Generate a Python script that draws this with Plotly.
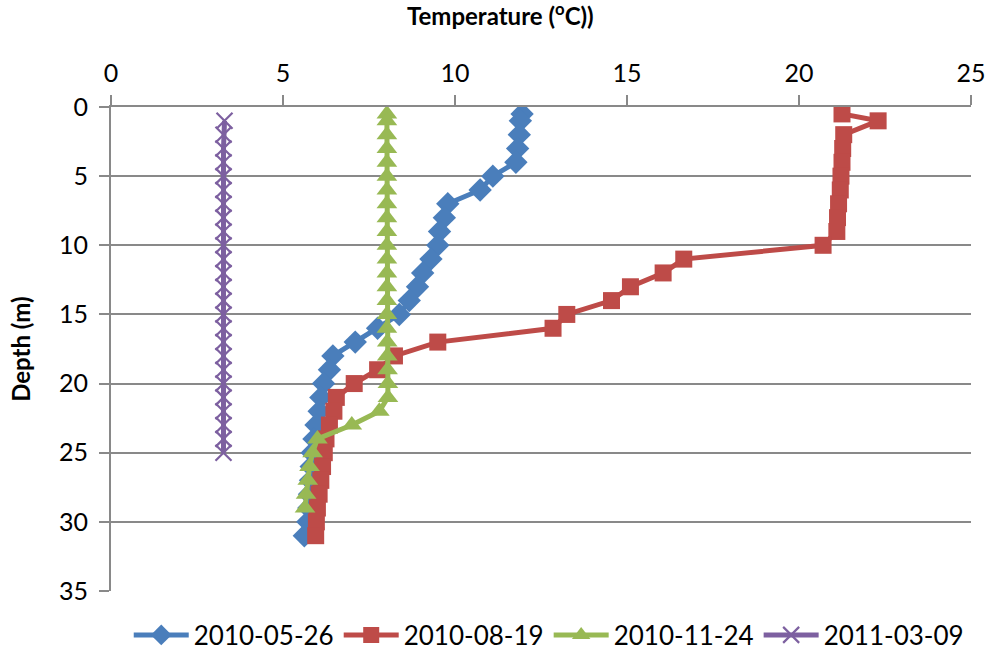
import plotly.graph_objects as go

# ---- data ----
blue_depth = [0.5, 1, 2, 3, 4, 5, 6, 7, 8, 9, 10, 11, 12, 13, 14, 15, 16, 17, 18, 19, 20,
              21, 22, 23, 24, 25, 26, 27, 28, 29, 30, 31]
blue_temp = [11.95, 11.9, 11.87, 11.82, 11.77, 11.1, 10.73, 9.79, 9.69, 9.55, 9.5, 9.3, 9.06,
             8.91, 8.67, 8.38, 7.75, 7.1, 6.45, 6.35, 6.18, 6.1, 6.05, 5.96, 5.9, 5.85, 5.82,
             5.8, 5.77, 5.75, 5.72, 5.62]

red_depth = [0.5, 1, 2, 3, 4, 5, 6, 7, 8, 9, 10, 11, 12, 13, 14, 15, 16, 17, 18, 19, 20,
             21, 22, 23, 24, 25, 26, 27, 28, 29, 30, 31]
red_temp = [21.25, 22.3, 21.3, 21.27, 21.25, 21.22, 21.2, 21.15, 21.12, 21.1, 20.7, 16.65,
            16.05, 15.1, 14.55, 13.25, 12.85, 9.5, 8.24, 7.75, 7.07, 6.55, 6.48, 6.35, 6.25,
            6.2, 6.15, 6.1, 6.05, 6.0, 5.97, 5.95]

green_depth = [0.5, 1, 2, 3, 4, 5, 6, 7, 8, 9, 10, 11, 12, 13, 14, 15, 16, 17, 18, 19, 20,
               21, 22, 23, 24, 25, 26, 27, 28, 29]
green_temp = [8.02, 8.02, 8.02, 8.02, 8.02, 8.02, 8.02, 8.02, 8.02, 8.02, 8.02, 8.02, 8.02,
              8.02, 8.02, 8.02, 8.02, 8.03, 8.03, 8.04, 8.05, 8.05, 7.8, 7.0, 6.0, 5.86, 5.77,
              5.72, 5.67, 5.64]

purple_depth = [1, 2, 3, 4, 5, 6, 7, 8, 9, 10, 11, 12, 13, 14, 15, 16, 17, 18, 19, 20, 21,
                22, 23, 24, 25]
purple_temp = [3.3, 3.27, 3.27, 3.27, 3.27, 3.27, 3.27, 3.27, 3.27, 3.27, 3.27, 3.27, 3.27,
               3.27, 3.27, 3.27, 3.27, 3.27, 3.27, 3.27, 3.27, 3.27, 3.27, 3.27, 3.27]

series_names = ["2010-05-26", "2010-08-19", "2010-11-24", "2011-03-09"]
x_ticks = [0, 5, 10, 15, 20, 25]
y_ticks = [0, 5, 10, 15, 20, 25, 30, 35]

FONT = "Lato, Liberation Sans, sans-serif"
GRID = "#898989"
FS = 25
PLOT_H = 484  # plot-area height in px
LW = 5

fig = go.Figure()
fig.add_trace(go.Scatter(x=blue_temp, y=blue_depth, name=series_names[0], mode="lines+markers",
                         line=dict(color="#4A7EBB", width=LW),
                         marker=dict(symbol="diamond", size=18, color="#4A7EBB")))
fig.add_trace(go.Scatter(x=red_temp, y=red_depth, name=series_names[1], mode="lines+markers",
                         line=dict(color="#BE4B48", width=LW),
                         marker=dict(symbol="square", size=17, color="#BE4B48")))
fig.add_trace(go.Scatter(x=green_temp, y=green_depth, name=series_names[2], mode="lines+markers",
                         line=dict(color="#98B954", width=LW),
                         marker=dict(symbol="triangle-up", size=18, color="#98B954")))
fig.add_trace(go.Scatter(x=purple_temp, y=purple_depth, name=series_names[3], mode="lines+markers",
                         line=dict(color="#7D60A0", width=LW),
                         marker=dict(symbol="x-thin", size=16, color="#7D60A0",
                                     line=dict(color="#7D60A0", width=2.2))))

fig.update_layout(
    width=989, height=653, autosize=False,
    margin=dict(l=111, r=18, t=107, b=62, autoexpand=False),
    paper_bgcolor="white", plot_bgcolor="white",
    font=dict(family=FONT, size=FS, color="black"),
    showlegend=True,
    legend=dict(orientation="h", x=0.509, xanchor="center", y=-44 / PLOT_H, yanchor="middle",
                font=dict(size=26), itemwidth=55, tracegroupgap=0),
    xaxis=dict(side="top", range=[0, 25], tickvals=x_ticks, showgrid=False, zeroline=False,
               showline=True, linecolor=GRID, linewidth=2, ticks="outside", ticklen=10,
               tickcolor=GRID, tickwidth=2, ticklabelstandoff=3, automargin=False,
               tickfont=dict(size=FS)),
    xaxis2=dict(overlaying="x", side="top", range=[0, 25], dtick=1, tick0=0, ticks="inside",
                ticklen=6, tickcolor=GRID, tickwidth=2, showticklabels=False, showgrid=False,
                zeroline=False, showline=False, automargin=False),
    yaxis=dict(range=[35, 0], tickvals=y_ticks, showgrid=True, gridcolor=GRID, gridwidth=2,
               zeroline=False, showline=True, linecolor=GRID, linewidth=2, ticks="outside",
               ticklen=10, tickcolor=GRID, tickwidth=2, ticklabelstandoff=6, automargin=False,
               tickfont=dict(size=FS)),
    annotations=[
        dict(text="<b>Temperature (<sup>o</sup>C))</b>", xref="paper", yref="paper",
             x=0.453, y=1 + 93 / PLOT_H, xanchor="center", yanchor="middle", showarrow=False,
             font=dict(size=24)),
        dict(text="<b>Depth (m)</b>", xref="paper", yref="paper", x=-0.106, y=0.5,
             xanchor="center", yanchor="middle", textangle=-90, showarrow=False,
             font=dict(size=24)),
    ],
)

fig.write_html("out.html", config={"responsive": False, "displayModeBar": False},
               post_script="document.body.style.margin='0';document.body.style.overflow='hidden';")
